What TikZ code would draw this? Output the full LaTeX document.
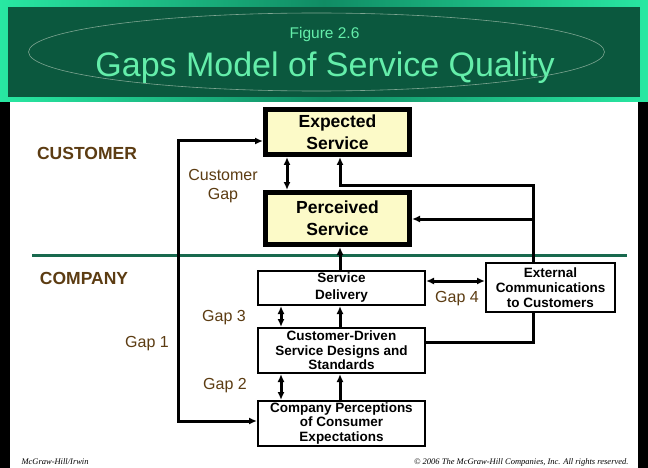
\documentclass[tikz,border=0pt]{standalone}
\usepackage{fontspec}
\setmainfont{Liberation Sans}
\newfontfamily\fussfont{Liberation Serif}
\usetikzlibrary{arrows.meta}
\definecolor{hellgruen}{RGB}{40,232,162}
\definecolor{mittelgruen}{RGB}{16,140,100}
\definecolor{dunkelgruen}{RGB}{11,88,62}
\definecolor{titelgruen}{RGB}{100,238,170}
\definecolor{ovalgrau}{RGB}{125,165,145}
\definecolor{trenngruen}{RGB}{24,105,78}
\definecolor{braun}{RGB}{92,60,18}
\definecolor{hellgelb}{RGB}{252,250,200}

\begin{document}
\begin{tikzpicture}[x=1pt, y=-1pt,
    kasten/.style={draw, line width=2pt, fill=white, align=center, inner sep=0pt,
      minimum width=167pt, font=\fontsize{13.5}{14.5}\selectfont\bfseries},
    kundenkasten/.style={draw, line width=5pt, fill=hellgelb, align=center, inner sep=0pt,
      minimum width=144pt, font=\fontsize{17.5}{22}\selectfont\bfseries},
    luecke/.style={text=braun, font=\fontsize{16}{19}\selectfont},
    seite/.style={text=braun, font=\fontsize{17.5}{20}\selectfont\bfseries},
    fuss/.style={font=\fussfont\itshape\fontsize{8.5}{10}\selectfont},
    pfeil/.style={-{Latex[length=8pt,width=7pt]}, line width=3pt},
    doppel/.style={{Latex[length=8pt,width=7pt]}-{Latex[length=8pt,width=7pt]}, line width=3pt},
    linie/.style={line width=3pt}
  ]
  \useasboundingbox (0,0) rectangle (648,468);
  \fill[black] (0,0) rectangle (648,468);
  \fill[white] (10,102) rectangle (638,468);

  % Kopfleiste
  \shade[left color=hellgruen, right color=hellgruen, middle color=mittelgruen] (0,0) rectangle (648,102);
  \fill[dunkelgruen] (8,7) rectangle (640,97);
  \draw[ovalgrau, line width=0.6pt] (316.5,52) ellipse [x radius=288, y radius=39];
  \node[anchor=base, text=titelgruen, font=\fontsize{15.5}{18}\selectfont] (figur) at (324.5,38.5) {Figure 2.6};
  \node[anchor=base, text=titelgruen, font=\fontsize{34}{40}\selectfont] (titel) at (325,77) {Gaps Model of Service Quality};

  \draw[trenngruen, line width=3pt] (32,255) -- (627,255);

  \node[seite] (customer) at (87,153) {CUSTOMER};
  \node[seite] (company) at (84,278) {COMPANY};

  \node[kundenkasten, minimum height=45pt] (expected) at (337.5,132) {Expected\\Service};
  \node[kundenkasten, minimum height=52pt] (perceived) at (337.5,218.5) {Perceived\\Service};
  \node[kasten, minimum height=34pt, font=\fontsize{13.5}{17}\selectfont\bfseries] (delivery) at (341.5,288) {Service\\Delivery};
  \node[kasten, minimum height=45pt] (designs) at (341.5,350.5) {Customer-Driven\\Service Designs and\\Standards};
  \node[kasten, minimum height=45pt] (perceptions) at (341.5,423.5) {Company Perceptions\\of Consumer\\Expectations};
  \node[kasten, minimum width=129pt, minimum height=49pt, font=\fontsize{13.5}{15}\selectfont\bfseries] (external) at (550.5,287.5) {External\\Communications\\to Customers};

  \node[luecke, align=center] (custgap) at (223,186) {Customer\\Gap};
  \node[luecke] (gap3) at (224,318) {Gap 3};
  \node[luecke] (gap1) at (147,344) {Gap 1};
  \node[luecke] (gap2) at (225,386) {Gap 2};
  \node[luecke] (gap4) at (457,299) {Gap 4};

  \coordinate (pk) at (287,0);
  \coordinate (links) at (281,0);
  \coordinate (mitte) at (340,0);
  \coordinate (rechts) at (533,0);
  \coordinate (oben) at (0,185);
  \coordinate (mitteh) at (0,219);
  \coordinate (gap4h) at (0,281);
  \coordinate (unten) at (0,342);
  \coordinate (schleifeoben) at (178,141);
  \coordinate (schleifeunten) at (178,421);

  \draw[doppel] (expected.west |- schleifeoben) -- (schleifeoben) -- (schleifeunten) -- (perceptions.west |- schleifeunten);
  \draw[doppel] (expected.south -| pk) -- (perceived.north -| pk);
  \draw[pfeil] (external.north -| rechts) |- (oben -| mitte) -- (expected.south -| mitte);
  \draw[pfeil] (rechts |- mitteh) -- (perceived.east |- mitteh);
  \draw[pfeil] (delivery.north -| mitte) -- (perceived.south -| mitte);
  \draw[doppel] (delivery.east |- gap4h) -- (external.west |- gap4h);
  \draw[doppel] (delivery.south -| links) -- (designs.north -| links);
  \draw[pfeil] (designs.north -| mitte) -- (delivery.south -| mitte);
  \draw[linie] (external.south -| rechts) |- (designs.east |- unten);
  \draw[doppel] (designs.south -| links) -- (perceptions.north -| links);
  \draw[pfeil] (perceptions.north -| mitte) -- (designs.south -| mitte);

  \node[fuss, anchor=base west] (verlag) at (18,464) {McGraw-Hill/Irwin};
  \node[fuss, anchor=base east] (rechte) at (632,464) {\textcopyright{} 2006 The McGraw-Hill Companies, Inc. All rights reserved.};
\end{tikzpicture}
\end{document}
